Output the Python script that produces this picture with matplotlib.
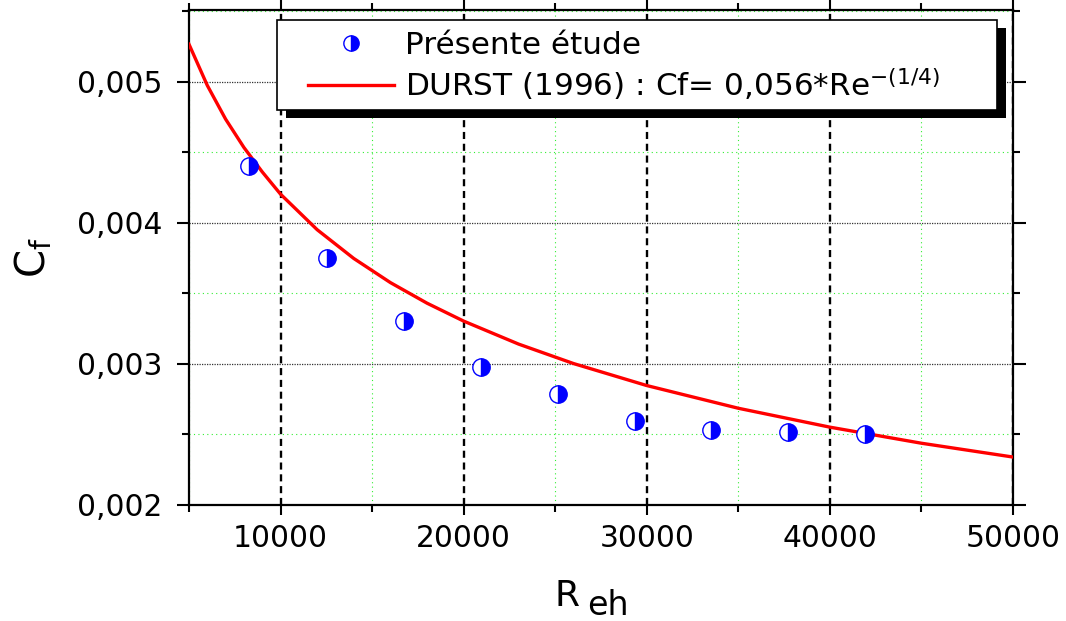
import matplotlib
matplotlib.use("Agg")
import matplotlib.pyplot as plt
from matplotlib.ticker import MultipleLocator, FuncFormatter
from matplotlib.patches import Rectangle

# Présente étude
re_points = [8304, 12517, 16731, 20928, 25157, 29333, 33530, 37727, 41940]
cf_points = [0.004404, 0.003754, 0.003305, 0.002981, 0.002787, 0.002598, 0.002530, 0.002520, 0.002501]

# DURST (1996) curve, sampled off the figure
re_durst = [5000, 6000, 7000, 8000, 9000, 10000, 12000, 14000, 16000, 18000, 20000,
            23000, 26000, 30000, 35000, 40000, 45000, 50000]
cf_durst = [0.005267, 0.004975, 0.004736, 0.004535, 0.004362, 0.004204, 0.003952,
            0.003748, 0.003577, 0.003431, 0.003304, 0.003141, 0.003003, 0.002847,
            0.002686, 0.002552, 0.002438, 0.002340]

label_pts = "Présente étude"
label_durst = "DURST (1996) : Cf= 0,056*Re$^{-(1/4)}$"

plt.rcParams['font.family'] = ['DejaVu Sans']

fig = plt.figure(figsize=(10.66, 6.21), dpi=100)
ax = fig.add_axes([189 / 1066, 116 / 621, 824 / 1066, 495 / 621])

ax.plot(re_durst, cf_durst, color='red', lw=2.4, zorder=3, label=label_durst)
ax.plot(re_points, cf_points, ls='none', marker='o', ms=12.5, fillstyle='right',
        markerfacecolor='blue', markerfacecoloralt='white', markeredgecolor='blue',
        markeredgewidth=1.0, zorder=4, label=label_pts)

ax.set_xlim(5000, 50000)
ax.set_ylim(0.002, 0.00551)

ax.xaxis.set_major_locator(MultipleLocator(10000))
ax.xaxis.set_minor_locator(MultipleLocator(5000))
ax.yaxis.set_major_locator(MultipleLocator(0.001))
ax.yaxis.set_minor_locator(MultipleLocator(0.0005))
ax.xaxis.set_major_formatter(FuncFormatter(lambda v, p: f"{int(v)}"))
ax.yaxis.set_major_formatter(FuncFormatter(lambda v, p: f"{v:.3f}".replace('.', ',')))

# grid
ax.xaxis.grid(True, which='major', color='black', ls=(0, (3, 2)), lw=1.7)
ax.yaxis.grid(True, which='major', color='#333333', ls=(0, (1, 1)), lw=0.9)
ax.grid(True, which='minor', color='#33ee33', ls=(0, (1, 3)), lw=0.8)
ax.set_axisbelow(True)

for s in ax.spines.values():
    s.set_linewidth(1.6)
ax.tick_params(which='both', direction='out', width=1.5, labelsize=21.4,
               top=True, right=True, labeltop=False, labelright=False)
ax.tick_params(axis='y', which='major', length=9, pad=10)
ax.tick_params(axis='y', which='minor', length=5)
ax.tick_params(axis='x', which='major', length=7, pad=7)
ax.tick_params(axis='x', which='minor', length=5)

ax.set_ylabel(r"$\mathregular{C_f}$", fontsize=29, labelpad=16)

# x label with large lowered subscript
fig.text(555 / 1066, 1 - 606 / 621, "R", fontsize=26, ha='left', va='baseline')
fig.text(587 / 1066, 1 - 615 / 621, "eh", fontsize=24, ha='left', va='baseline')

# legend frame + heavy drop shadow, drawn by hand
fx0, fy0, fw, fh = 0.1068, 0.798, 0.8738, 0.1818
ax.add_patch(Rectangle((fx0 + 9 / 824, fy0 - 8 / 495), fw, fh, transform=ax.transAxes,
                       facecolor='black', edgecolor='none', zorder=8, clip_on=False))
ax.add_patch(Rectangle((fx0, fy0), fw, fh, transform=ax.transAxes,
                       facecolor='white', edgecolor='black', lw=1.2, zorder=9, clip_on=False))

handles, labels = ax.get_legend_handles_labels()
leg = ax.legend(handles[::-1], labels[::-1], loc='upper left',
                bbox_to_anchor=((308 - 189) / 824, (505 - 31) / 495),
                fontsize=22.4, frameon=False, borderaxespad=0, borderpad=0,
                handlelength=2.75, handletextpad=0.38, labelspacing=0.2, markerscale=0.88)
leg.set_zorder(10)

fig.savefig("out.png", dpi=100)
